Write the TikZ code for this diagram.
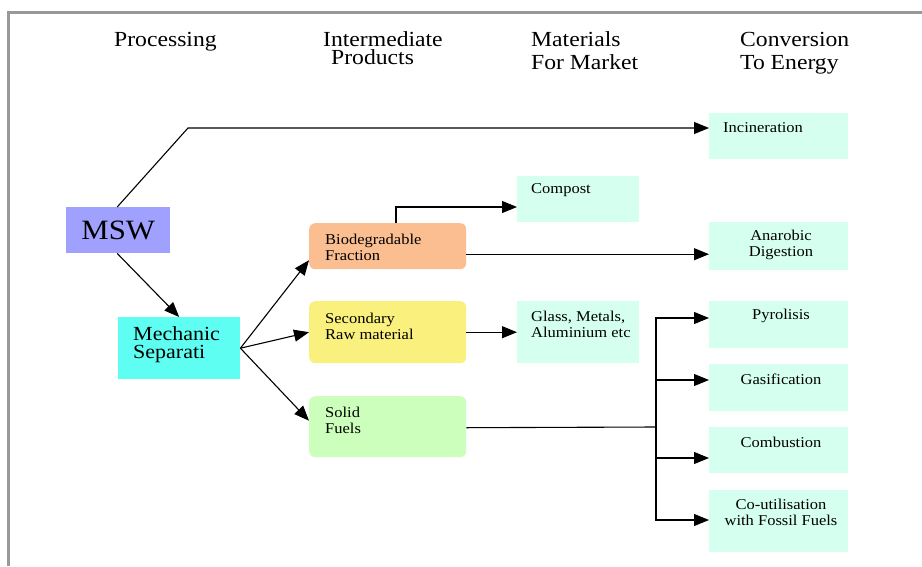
\documentclass[tikz,border=0pt]{standalone}
\usepackage{fontspec}
\setmainfont[FakeStretch=1.1]{Liberation Serif}
\usetikzlibrary{arrows.meta,calc}
\definecolor{mswc}{HTML}{A0A0FF}
\definecolor{mechc}{HTML}{5EFFF2}
\definecolor{bioc}{HTML}{FABE91}
\definecolor{secc}{HTML}{FAF07D}
\definecolor{solc}{HTML}{CCFFBB}
\definecolor{mintc}{HTML}{D5FFEE}
\definecolor{framec}{HTML}{999999}
\tikzset{
  box/.style={rectangle, draw=none, anchor=north west, inner sep=0pt, minimum width=#1},
  rbox/.style={box=#1, rounded corners=6pt},
  hdr/.style={font=\fontsize{21.5}{18}\selectfont, inner sep=0pt, anchor=base west},
  txt/.style={font=\fontsize{15}{16}\selectfont, inner sep=0pt, align=left, anchor=west},
  ctxt/.style={font=\fontsize{15}{16}\selectfont, inner sep=0pt, align=center},
  arr/.style={draw=black, line width=1.1pt, -{Triangle[length=15pt,width=12pt]}},
  ln/.style={draw=black, line width=1.1pt}
}
\begin{document}
\begin{tikzpicture}[x=1pt,y=-1pt]
\useasboundingbox (0,0) rectangle (922,566);
\fill[white] (0,0) rectangle (922,566);
\draw[framec, line width=3pt] (8,566) -- (8,12) -- (922,12);
% headers
\node[hdr] (h1) at (114,46) {Processing};
\node[hdr] (h2a) at (323,46) {Intermediate};
\node[hdr] (h2b) at (331,64) {Products};
\node[hdr] (h3a) at (531,46) {Materials};
\node[hdr] (h3b) at (531,69) {For Market};
\node[hdr] (h4a) at (740,46) {Conversion};
\node[hdr] (h4b) at (740,69) {To Energy};
% boxes
\node[box=104pt, minimum height=46pt, fill=mswc] (msw) at (66,207) {};
\node[font=\fontsize{28}{28}\selectfont, inner sep=0pt] (mswt) at (msw.center) {MSW};
\node[box=122pt, minimum height=62pt, fill=mechc] (mech) at (118,317) {};
\node[txt, font=\fontsize{20}{18}\selectfont] (mecht) at (133,345) {Mechanic\\Separati};
\node[rbox=157pt, minimum height=46pt, fill=bioc] (bio) at (309,223) {};
\node[txt] (biot) at (325,247) {Biodegradable\\Fraction};
\node[rbox=157pt, minimum height=62pt, fill=secc] (sec) at (309,301) {};
\node[txt] (sect) at (325,326) {Secondary\\Raw material};
\node[rbox=157pt, minimum height=61pt, fill=solc] (sol) at (309,396) {};
\node[txt] (solt) at (325,420) {Solid\\Fuels};
\node[box=122pt, minimum height=46pt, fill=mintc] (comp) at (517,176) {};
\node[txt] (compt) at (531,190) {Compost};
\node[box=122pt, minimum height=62pt, fill=mintc] (glass) at (517,301) {};
\node[txt] (glasst) at (531,324) {Glass, Metals,\\Aluminium etc};
\node[box=139pt, minimum height=46pt, fill=mintc] (inc) at (709,113) {};
\node[txt] (inct) at (723,128) {Incineration};
\node[box=139pt, minimum height=48pt, fill=mintc] (ana) at (709,222) {};
\node[ctxt] (anat) at (781,245) {Anarobic\\Digestion};
\node[box=139pt, minimum height=47pt, fill=mintc] (pyr) at (709,301) {};
\node[ctxt] (pyrt) at (781,316) {Pyrolisis};
\node[box=139pt, minimum height=47pt, fill=mintc] (gas) at (709,364) {};
\node[ctxt] (gast) at (781,379) {Gasification};
\node[box=139pt, minimum height=46pt, fill=mintc] (comb) at (709,427) {};
\node[ctxt] (combt) at (781,442) {Combustion};
\node[box=139pt, minimum height=62pt, fill=mintc] (cou) at (709,490) {};
\node[ctxt] (cout) at (781,512) {Co-utilisation\\with Fossil Fuels};
% connectors
\coordinate (b1) at (188,128);
\draw[arr] ([xshift=-1pt]msw.north) -- (b1) -- (b1 -| inc.west);
\draw[arr] ([xshift=-1pt]msw.south) -- (mech.north);
\draw[arr] (mech.east) -- ([yshift=-14pt]bio.west);
\draw[arr] (mech.east) -- (sec.west);
\draw[arr] (mech.east) -- ([yshift=6pt]sol.west);
\coordinate (b2) at (396,207);
\draw[arr] (b2 |- bio.north) -- (b2) -- (b2 -| comp.west);
\draw[arr] ([yshift=-8pt]bio.east) -- ([yshift=-8pt]bio.east -| ana.west);
\draw[arr] (sec.east) -- (sec.east -| glass.west);
\coordinate (j) at (656,427);
\coordinate (jt) at (656,318);
\coordinate (jg) at (656,380);
\coordinate (jc) at (656,458);
\coordinate (jb) at (656,520);
\draw[ln] ([yshift=-1pt]sol.east) -- (j);
\draw[arr] (j) -- (jt) -- (jt -| pyr.west);
\draw[arr] (jg) -- (jg -| gas.west);
\draw[arr] (jc) -- (jc -| comb.west);
\draw[arr] (j) -- (jb) -- (jb -| cou.west);
\end{tikzpicture}
\end{document}
